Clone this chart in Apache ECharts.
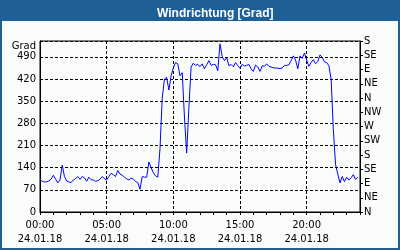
<!DOCTYPE html>
<html>
<head>
<meta charset="utf-8">
<script src="https://cdn.jsdelivr.net/npm/echarts@6/dist/echarts.min.js"></script>
<style>
html,body{margin:0;padding:0;}
#wrap{position:relative;width:400px;height:250px;background:#1d5f96;overflow:hidden;}
#panel{position:absolute;left:2px;top:21px;width:396px;height:227px;background:#f9fcf9;}
#chart{position:absolute;left:0;top:0;width:400px;height:250px;}
</style>
</head>
<body>
<div id="wrap"><div id="panel"></div><div id="chart"></div></div>
<script>
// Wind direction, one sample every 10 minutes, 00:00 .. 23:50 on 24.01.18
const dateLabel = '24.01.18';
const windDir = [
  103, 97, 95, 95, 98, 104, 116, 104, 92, 101,
  148, 112, 98, 95, 93, 101, 105, 112, 103, 112,
  108, 97, 110, 102, 101, 97, 99, 103, 112, 105,
  101, 112, 122, 118, 112, 131, 120, 116, 110, 105,
  101, 107, 104, 96, 93, 72, 112, 110, 110, 158,
  140, 124, 114, 110, 200, 360, 420, 425, 385, 430,
  455, 472, 468, 430, 440, 300, 186, 330, 458, 470,
  463, 466, 459, 468, 452, 465, 478, 463, 466, 465,
  446, 531, 490, 478, 488, 462, 466, 459, 472, 462,
  454, 466, 461, 463, 466, 452, 444, 464, 458, 444,
  462, 460, 468, 460, 458, 455, 455, 454, 453, 455,
  463, 463, 465, 478, 493, 480, 452, 493, 485, 502,
  480, 460, 472, 481, 468, 475, 496, 488, 474, 472,
  462, 420, 260, 150, 120, 92, 112, 96, 110, 101,
  108, 118, 103, 110
];
// category axis: every 10 minutes from 00:00 to 24:00
const timeCats = [];
for (let m = 0; m <= 24 * 60; m += 10) {
  const h = Math.floor(m / 60), mm = m % 60;
  timeCats.push(String(h).padStart(2, '0') + ':' + String(mm).padStart(2, '0'));
}
const compassLabels = ['N','NE','E','SE','S','SW','W','NW','N','NE','E','SE','S'];
const leftAxisName = 'Grad';
const titleText = 'Windrichtung [Grad]';

const FONT = 'DejaVu Sans';
const chart = echarts.init(document.getElementById('chart'), null, {renderer: 'canvas'});
chart.setOption({
  animation: false,
  backgroundColor: 'transparent',
  title: {
    text: titleText, left: 152, top: 3,
    textStyle: {color: '#ffffff', fontFamily: 'Liberation Sans', fontWeight: 'bold', fontSize: 12}
  },
  grid: {left: 40, right: 40, top: 41, bottom: 38, show: true, borderColor: '#000', borderWidth: 1, backgroundColor: 'transparent'},
  xAxis: {
    type: 'category',
    data: timeCats,
    boundaryGap: false,
    axisLine: {show: true, lineStyle: {color: '#000', width: 1}},
    axisTick: {show: true, length: 3, interval: (i) => i % 6 === 0, lineStyle: {color: '#000'}},
    axisLabel: {
      interval: (i) => i % 30 === 0 && i < 144,
      formatter: (v) => v + '\n' + dateLabel,
      color: '#000', fontFamily: FONT, fontSize: 10, lineHeight: 14, margin: 6
    },
    splitLine: {show: true, interval: (i) => i % 30 === 0 && i > 0 && i < 144,
      lineStyle: {color: '#000', type: [3, 2], width: 1}}
  },
  yAxis: [
    {
      type: 'value', min: 0, max: 540, interval: 70, position: 'left',
      axisLine: {show: true, lineStyle: {color: '#000'}},
      axisTick: {show: false},
      axisLabel: {
        color: '#000', fontFamily: FONT, fontSize: 10, margin: 4,
        formatter: (v) => v === 540 ? '{g|' + leftAxisName + '}' : String(v),
        rich: {g: {color: '#000', fontFamily: FONT, fontSize: 10, padding: [11, 0, 0, 0]}}
      },
      splitLine: {show: true, lineStyle: {color: '#000', type: [3, 2], width: 1}}
    },
    {
      type: 'value', min: 0, max: 540, interval: 45, position: 'right',
      axisLine: {show: true, lineStyle: {color: '#000'}},
      axisTick: {show: true, length: 3, lineStyle: {color: '#000'}},
      axisLabel: {
        color: '#000', fontFamily: FONT, fontSize: 10, margin: 4,
        formatter: (v) => compassLabels[Math.round(v / 45)] || ''
      },
      splitLine: {show: false}
    }
  ],
  series: [{
    type: 'line',
    data: windDir,
    yAxisIndex: 0,
    showSymbol: false,
    lineStyle: {color: '#0000ff', width: 1},
    itemStyle: {color: '#0000ff'}
  }]
});
</script>
</body>
</html>
